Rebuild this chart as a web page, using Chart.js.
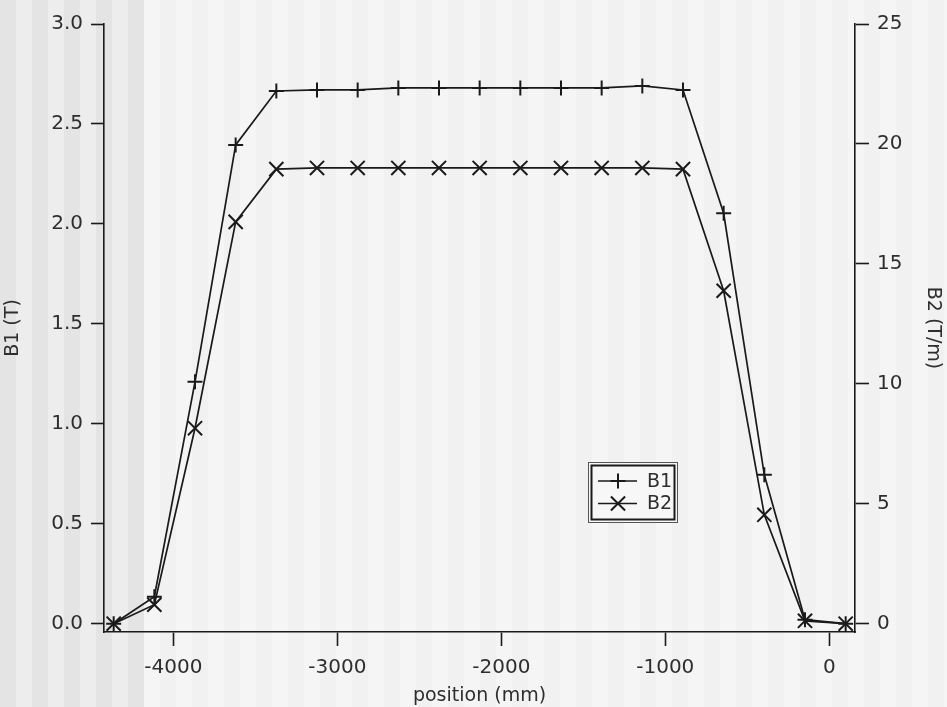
<!DOCTYPE html>
<html>
<head>
<meta charset="utf-8">
<script src="https://cdn.jsdelivr.net/npm/chart.js@4/dist/chart.umd.min.js"></script>
<style>
  html, body { margin: 0; padding: 0; background: #f3f3f3; }
  #wrap { width: 947px; height: 707px; }
</style>
</head>
<body>
<div id="wrap"><canvas id="c" width="947" height="707"></canvas></div>
<script>
// Field profile along the magnet: position in mm, dipole B1 (T) and gradient B2 (T/m)
const positions = [-4364, -4116, -3868, -3620, -3372, -3124, -2876, -2628, -2380, -2132,
                   -1884, -1636, -1388, -1140, -892, -644, -396, -148, 100];
const b1Values = [0.0, 0.135, 1.21, 2.395, 2.665, 2.67, 2.67, 2.68, 2.68, 2.68,
                  2.68, 2.68, 2.68, 2.69, 2.67, 2.053, 0.745, 0.02, 0.0];
const b2Values = [0.0, 0.79, 8.15, 16.75, 18.95, 19.0, 19.0, 19.0, 19.0, 19.0,
                  19.0, 19.0, 19.0, 19.0, 18.95, 13.88, 4.54, 0.12, 0.0];

const xTicks = [-4000, -3000, -2000, -1000, 0];
const b1Ticks = [0.0, 0.5, 1.0, 1.5, 2.0, 2.5, 3.0];
const b2Ticks = [0, 5, 10, 15, 20, 25];

const FONT = 'DejaVu Sans';
const INK = '#1a1a1a';
const TEXT = '#2e2e2e';

// Striped page background
const stripes = {
  id: 'stripes',
  beforeDraw(chart) {
    const ctx = chart.ctx;
    const w = chart.width, h = chart.height, sw = 16;
    ctx.save();
    for (let i = 0; i * sw < w; i++) {
      const x = i * sw;
      if (x < 144) ctx.fillStyle = (i % 2 === 0) ? '#e4e4e4' : '#ededed';
      else ctx.fillStyle = (i % 2 === 0) ? '#f1f1f1' : '#f5f5f5';
      ctx.fillRect(x, 0, sw, h);
    }
    ctx.restore();
  }
};

// Boxed legend with a double frame, built from the datasets
const boxLegend = {
  id: 'boxLegend',
  afterDraw(chart) {
    const ctx = chart.ctx;
    const x0 = 588.5, y0 = 462.5, w = 89, h = 60;
    ctx.save();
    ctx.fillStyle = '#f7f7f7';
    ctx.fillRect(x0, y0, w, h);
    ctx.strokeStyle = '#555';
    ctx.lineWidth = 1;
    ctx.strokeRect(x0, y0, w, h);
    ctx.strokeStyle = INK;
    ctx.lineWidth = 2;
    ctx.strokeRect(x0 + 3, y0 + 3, w - 6, h - 6);
    ctx.font = '19px "' + FONT + '"';
    ctx.textBaseline = 'middle';
    ctx.textAlign = 'left';
    chart.data.datasets.forEach((ds, i) => {
      const y = 481 + i * 22.5;
      ctx.strokeStyle = INK;
      ctx.lineWidth = 1.6;
      ctx.beginPath();
      ctx.moveTo(598, y);
      ctx.lineTo(637, y);
      ctx.stroke();
      ctx.lineWidth = 2;
      Chart.helpers.drawPoint(ctx, {
        pointStyle: ds.pointStyle, radius: ds.pointRadius, rotation: 0, borderWidth: 2
      }, 618, y);
      ctx.fillStyle = TEXT;
      ctx.fillText(ds.label, 647, y + 1);
    });
    ctx.restore();
  }
};

function axisStyle(tickLen) {
  return {
    grid: { display: true, drawOnChartArea: false, drawTicks: true, tickLength: tickLen,
            tickColor: INK, tickWidth: 1.6, color: INK },
    border: { display: true, color: INK, width: 1.6 },
  };
}

const chart = new Chart(document.getElementById('c'), {
  type: 'line',
  data: {
    datasets: [
      {
        label: 'B1',
        data: positions.map((x, i) => ({ x, y: b1Values[i] })),
        yAxisID: 'y',
        borderColor: INK, borderWidth: 1.7,
        pointStyle: 'cross', pointRadius: 7.5, pointBorderWidth: 2,
        pointBorderColor: INK, pointBackgroundColor: INK,
        tension: 0, fill: false, clip: false
      },
      {
        label: 'B2',
        data: positions.map((x, i) => ({ x, y: b2Values[i] })),
        yAxisID: 'y2',
        borderColor: INK, borderWidth: 1.7,
        pointStyle: 'crossRot', pointRadius: 10, pointBorderWidth: 2,
        pointBorderColor: INK, pointBackgroundColor: INK,
        tension: 0, fill: false, clip: false
      }
    ]
  },
  options: {
    responsive: false,
    animation: false,
    devicePixelRatio: 1,
    layout: { padding: { top: 24, left: 0, right: 0, bottom: 0 } },
    plugins: { legend: { display: false }, tooltip: { enabled: false } },
    scales: {
      x: {
        type: 'linear', position: 'bottom', min: -4423, max: 157,
        ...axisStyle(14),
        afterBuildTicks: s => { s.ticks = xTicks.map(v => ({ value: v })); },
        afterFit: s => { s.height = 75; },
        ticks: { color: TEXT, font: { family: FONT, size: 20 }, padding: 10,
                 maxRotation: 0, autoSkip: false, callback: v => String(v) },
        title: { display: true, text: 'position (mm)', color: TEXT,
                 font: { family: FONT, size: 19 }, padding: { top: 0, bottom: 0 } }
      },
      y: {
        type: 'linear', position: 'left', min: -0.0415, max: 3.0,
        ...axisStyle(13),
        afterBuildTicks: s => { s.ticks = b1Ticks.map(v => ({ value: v })); },
        afterFit: s => { s.width = 104; },
        ticks: { color: TEXT, font: { family: FONT, size: 20 }, padding: 8,
                 autoSkip: false, callback: v => Number(v).toFixed(1) },
        title: { display: true, text: 'B1 (T)', color: TEXT,
                 font: { family: FONT, size: 19 }, padding: { top: 2, bottom: 0 } }
      },
      y2: {
        type: 'linear', position: 'right', min: -0.346, max: 25,
        ...axisStyle(14),
        afterBuildTicks: s => { s.ticks = b2Ticks.map(v => ({ value: v })); },
        afterFit: s => { s.width = 92; },
        ticks: { color: TEXT, font: { family: FONT, size: 20 }, padding: 8,
                 autoSkip: false, callback: v => String(v) },
        title: { display: true, text: 'B2 (T/m)', color: TEXT,
                 font: { family: FONT, size: 19 }, padding: { top: 3, bottom: 0 } }
      }
    }
  },
  plugins: [stripes, boxLegend]
});
</script>
</body>
</html>
